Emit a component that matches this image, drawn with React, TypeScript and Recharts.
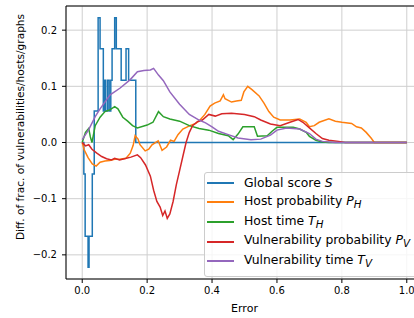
import React from 'react';
import { LineChart, Line, XAxis, YAxis, CartesianGrid, ReferenceLine } from 'recharts';

// axis ticks
const xTicks = [0, 0.2, 0.4, 0.6, 0.8, 1.0];
const yTicks = [-0.2, -0.1, 0, 0.1, 0.2];

// [error, diff] pairs
const globalScore: [number, number][] = [
  [0, 0], [0.005, -0.056], [0.009, -0.167], [0.018, -0.222], [0.021, -0.167],
  [0.031, -0.056], [0.037, 0.056], [0.049, 0.222], [0.055, 0.167], [0.065, 0.056],
  [0.069, 0.111], [0.072, 0.056], [0.078, 0.111], [0.083, 0.056], [0.088, 0.111],
  [0.092, 0.167], [0.1, 0.222], [0.105, 0.167], [0.12, 0.111], [0.135, 0.167],
  [0.143, 0.111], [0.165, 0], [1.0, 0],
];

const hostProb: [number, number][] = [
  [0, 0], [0.006, -0.013], [0.018, -0.027], [0.031, -0.038], [0.043, -0.042],
  [0.055, -0.035], [0.07, -0.033], [0.085, -0.032], [0.1, -0.03], [0.115, -0.03],
  [0.135, -0.028], [0.148, -0.019], [0.157, -0.005], [0.163, 0.012], [0.172, 0.006],
  [0.178, -0.004], [0.194, -0.015], [0.205, -0.012], [0.215, -0.004], [0.234, 0.003],
  [0.246, -0.014], [0.26, -0.008], [0.272, 0.004], [0.283, 0.002], [0.295, 0.014],
  [0.31, 0.024], [0.332, 0.03], [0.35, 0.034], [0.363, 0.04], [0.378, 0.05],
  [0.394, 0.065], [0.408, 0.07], [0.425, 0.074], [0.435, 0.085], [0.44, 0.078],
  [0.46, 0.072], [0.475, 0.074], [0.49, 0.075], [0.498, 0.09], [0.51, 0.1],
  [0.523, 0.094], [0.545, 0.083], [0.56, 0.07], [0.575, 0.055], [0.59, 0.045],
  [0.61, 0.04], [0.64, 0.04], [0.67, 0.042], [0.69, 0.036], [0.7, 0.028],
  [0.715, 0.03], [0.73, 0.036], [0.76, 0.042], [0.78, 0.038], [0.8, 0.036],
  [0.83, 0.034], [0.845, 0.028], [0.86, 0.026], [0.875, 0.018], [0.89, 0.008],
  [0.9, 0], [1.0, 0],
];

const hostTime: [number, number][] = [
  [0, 0], [0.01, 0.018], [0.02, 0.025], [0.025, 0.01], [0.03, 0], [0.04, 0.03],
  [0.055, 0.045], [0.07, 0.055], [0.085, 0.058], [0.1, 0.064], [0.11, 0.06],
  [0.125, 0.045], [0.14, 0.038], [0.155, 0.03], [0.17, 0.026], [0.2, 0.031],
  [0.218, 0.036], [0.235, 0.055], [0.25, 0.046], [0.27, 0.042], [0.3, 0.038],
  [0.33, 0.03], [0.36, 0.025], [0.39, 0.022], [0.42, 0.016], [0.45, 0.012],
  [0.465, 0.005], [0.48, 0.015], [0.495, 0.028], [0.53, 0.028], [0.54, 0.011],
  [0.57, 0.012], [0.585, 0.02], [0.6, 0.027], [0.65, 0.027], [0.67, 0.024],
  [0.69, 0.018], [0.7, 0.011], [0.72, 0.004], [0.74, 0.001], [0.76, 0], [1.0, 0],
];

const vulnProb: [number, number][] = [
  [0, 0], [0.01, -0.006], [0.02, -0.004], [0.03, -0.012], [0.045, -0.019],
  [0.06, -0.025], [0.075, -0.029], [0.09, -0.031], [0.1, -0.028], [0.115, -0.031],
  [0.13, -0.029], [0.15, -0.026], [0.17, -0.022], [0.18, -0.027], [0.195, -0.04],
  [0.21, -0.06], [0.22, -0.085], [0.23, -0.105], [0.24, -0.115], [0.248, -0.13],
  [0.255, -0.122], [0.262, -0.135], [0.27, -0.127], [0.28, -0.105], [0.29, -0.075],
  [0.3, -0.05], [0.31, -0.025], [0.32, 0], [0.33, 0.018], [0.34, 0.03],
  [0.355, 0.037], [0.37, 0.04], [0.39, 0.05], [0.41, 0.047], [0.43, 0.051],
  [0.46, 0.052], [0.5, 0.05], [0.53, 0.046], [0.55, 0.04], [0.58, 0.033],
  [0.61, 0.03], [0.64, 0.036], [0.665, 0.041], [0.68, 0.036], [0.7, 0.026],
  [0.72, 0.016], [0.74, 0.007], [0.76, 0.004], [0.79, 0.002], [0.81, 0], [1.0, 0],
];

const vulnTime: [number, number][] = [
  [0, 0.005], [0.02, 0.023], [0.04, 0.046], [0.055, 0.06], [0.086, 0.085],
  [0.117, 0.097], [0.148, 0.112], [0.17, 0.126], [0.19, 0.128], [0.21, 0.129],
  [0.22, 0.132], [0.235, 0.12], [0.25, 0.11], [0.27, 0.09], [0.3, 0.068],
  [0.33, 0.05], [0.36, 0.04], [0.38, 0.035], [0.4, 0.028], [0.42, 0.02],
  [0.45, 0.014], [0.48, 0.008], [0.52, 0.005], [0.55, 0.006], [0.58, 0.013],
  [0.6, 0.022], [0.63, 0.026], [0.67, 0.024], [0.7, 0.016], [0.72, 0.006],
  [0.74, 0.002], [0.78, 0], [1.0, 0],
];

const toRows = (pts: [number, number][]) => pts.map(([x, y]) => ({ x, y }));

const series = [
  { key: 'S', data: globalScore, color: '#1f77b4', step: true, label: <>Global score <i>S</i></> },
  { key: 'PH', data: hostProb, color: '#ff7f0e', step: false, label: <>Host probability <i>P<sub>H</sub></i></> },
  { key: 'TH', data: hostTime, color: '#2ca02c', step: false, label: <>Host time <i>T<sub>H</sub></i></> },
  { key: 'PV', data: vulnProb, color: '#d62728', step: false, label: <>Vulnerability probability <i>P<sub>V</sub></i></> },
  { key: 'TV', data: vulnTime, color: '#9467bd', step: false, label: <>Vulnerability time <i>T<sub>V</sub></i></> },
];

const Y_MAX = 0.243;
const font = '"DejaVu Sans", sans-serif';
const fmt = (v: number) => v.toFixed(1).replace('-', '\u2212');

export default function App() {
  return (
    <div style={{ position: 'absolute', left: 0, top: 0, width: 414, height: 318, overflow: 'hidden', background: '#fff', fontFamily: font }}>
      <LineChart width={440} height={318} margin={{ top: 6, right: 17, bottom: 0, left: 0 }}>
        <CartesianGrid stroke="#cfcfcf" strokeWidth={1} />
        <XAxis
          type="number"
          dataKey="x"
          domain={[-0.05, 1.05]}
          ticks={xTicks}
          tickFormatter={fmt}
          allowDataOverflow
          height={39}
          tickSize={4}
          tickMargin={4}
          stroke="#000"
          tick={{ fill: '#000', fontSize: 10, fontFamily: font }}
          label={{ value: 'Error', position: 'insideBottom', offset: 6, fill: '#000', fontSize: 11, fontFamily: font }}
        />
        <YAxis
          type="number"
          dataKey="y"
          domain={[-Y_MAX, Y_MAX]}
          ticks={yTicks}
          tickFormatter={fmt}
          allowDataOverflow
          width={66}
          tickSize={4}
          tickMargin={5}
          stroke="#000"
          tick={{ fill: '#000', fontSize: 10, fontFamily: font }}
          label={() => (
            <text
              x={20}
              y={127}
              transform="rotate(-90 20 127)"
              textAnchor="middle"
              dominantBaseline="central"
              fill="#000"
              fontSize={10.6}
              fontFamily={font}
            >
              Diff. of frac. of vulnerabilities/hosts/graphs
            </text>
          )}
        />
        <ReferenceLine y={Y_MAX} stroke="#000" strokeWidth={1} />
        {series.map((s) => (
          <Line
            key={s.key}
            data={toRows(s.data)}
            dataKey="y"
            type={s.step ? 'stepAfter' : 'linear'}
            stroke={s.color}
            strokeWidth={1.5}
            dot={false}
            activeDot={false}
            isAnimationActive={false}
          />
        ))}
      </LineChart>
      <div
        style={{
          position: 'absolute',
          left: 204,
          top: 172,
          width: 240,
          paddingBottom: 5,
          background: 'rgba(255,255,255,0.8)',
          border: '1px solid #cccccc',
          borderRadius: 3,
          fontSize: 12.4,
          color: '#000',
        }}
      >
        {series.map((s) => (
          <div key={s.key} style={{ height: 19.6, display: 'flex', alignItems: 'center', whiteSpace: 'nowrap' }}>
            <div style={{ width: 27, height: 2, background: s.color, marginLeft: 2, marginRight: 10, flexShrink: 0 }} />
            <span style={{ lineHeight: 1 }}>{s.label}</span>
          </div>
        ))}
      </div>
    </div>
  );
}
